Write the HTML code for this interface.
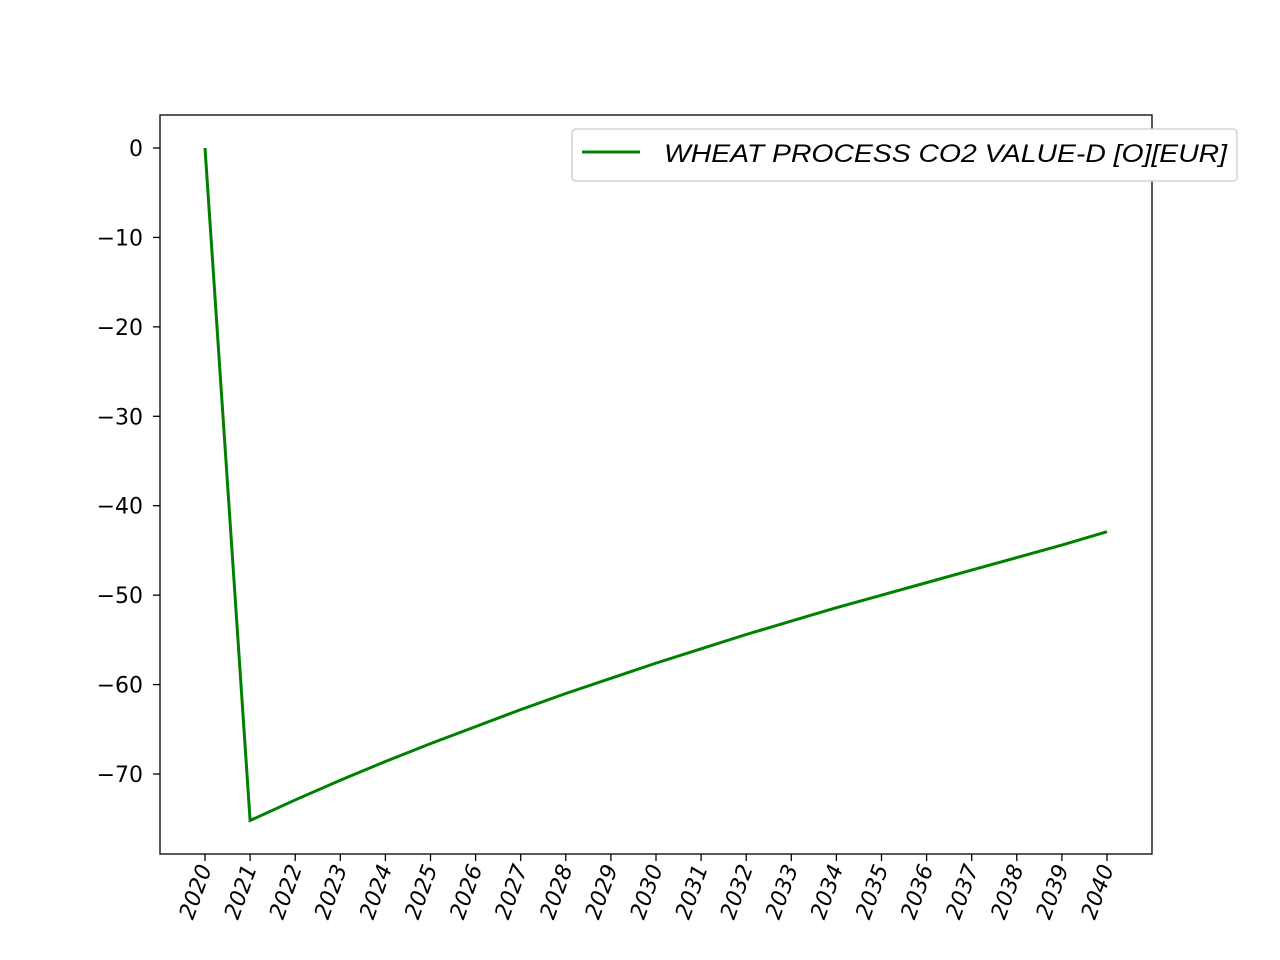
<!DOCTYPE html>
<html><head><meta charset="utf-8"><style>
body{margin:0;background:#fff;}
svg{display:block;font-family:"DejaVu Sans","Liberation Sans",sans-serif;}
</style></head><body>
<svg id="chart" width="1280" height="960">
<rect x="160" y="115" width="992" height="739" fill="#fff" stroke="#000" stroke-width="1.3"/>
<g id="xt"></g>
<g id="yt"></g>
<path id="line" fill="none" stroke="#008000" stroke-width="3"/>
<g>
<rect x="572" y="129" width="665" height="52" rx="4" fill="#fff" stroke="#ccc" stroke-width="1.3"/>
<line x1="582" y1="152" x2="640" y2="152" stroke="#008000" stroke-width="3"/>
<text x="664" y="162" font-size="25" font-style="italic" textLength="563" lengthAdjust="spacingAndGlyphs" font-family="Liberation Sans, sans-serif">WHEAT PROCESS CO2 VALUE-D [O][EUR]</text>
</g>
</svg>
<script>
const years=[2020,2021,2022,2023,2024,2025,2026,2027,2028,2029,2030,2031,2032,2033,2034,2035,2036,2037,2038,2039,2040];
const values=[0,-75.2,-72.9,-70.7,-68.6,-66.6,-64.7,-62.8,-61.0,-59.3,-57.6,-56.0,-54.4,-52.9,-51.4,-50.0,-48.6,-47.2,-45.8,-44.4,-42.9];
const yTicks=[0,-10,-20,-30,-40,-50,-60,-70];
const NS="http://www.w3.org/2000/svg";
function xs(v){return 205+(v-2020)*(1107-205)/20;}
function ys(v){return 148+(-v)*8.943;}
const xt=document.getElementById('xt'),yt=document.getElementById('yt');
years.forEach(y=>{
 const x=xs(y);
 const l=document.createElementNS(NS,'line');
 l.setAttribute('x1',x);l.setAttribute('x2',x);l.setAttribute('y1',854);l.setAttribute('y2',861);l.setAttribute('stroke','#000');l.setAttribute('stroke-width','1.3');
 
 
 xt.appendChild(l);
 const t=document.createElementNS(NS,'text');
 t.setAttribute('transform',`translate(${x+7},${868}) rotate(-70)`);
 t.setAttribute('text-anchor','end');t.setAttribute('font-size','22');t.setAttribute('font-style','italic');
 t.textContent=y;
 
 
 xt.appendChild(t);
});
yTicks.forEach(v=>{
 const y=ys(v);
 const l=document.createElementNS(NS,'line');
 l.setAttribute('x1',153);l.setAttribute('x2',160);l.setAttribute('y1',y);l.setAttribute('y2',y);l.setAttribute('stroke','#000');l.setAttribute('stroke-width','1.3');
 
 
 yt.appendChild(l);
 const t=document.createElementNS(NS,'text');
 t.setAttribute('x',143);t.setAttribute('y',y+8);t.setAttribute('text-anchor','end');t.setAttribute('font-size','22');
 t.textContent=v<0?'\u2212'+(-v):String(v);
 
 
 yt.appendChild(t);
});
document.getElementById('line').setAttribute('d',years.map((y,i)=>(i?'L':'M')+xs(y)+' '+ys(values[i])).join(' '));
</script>
</body></html>
